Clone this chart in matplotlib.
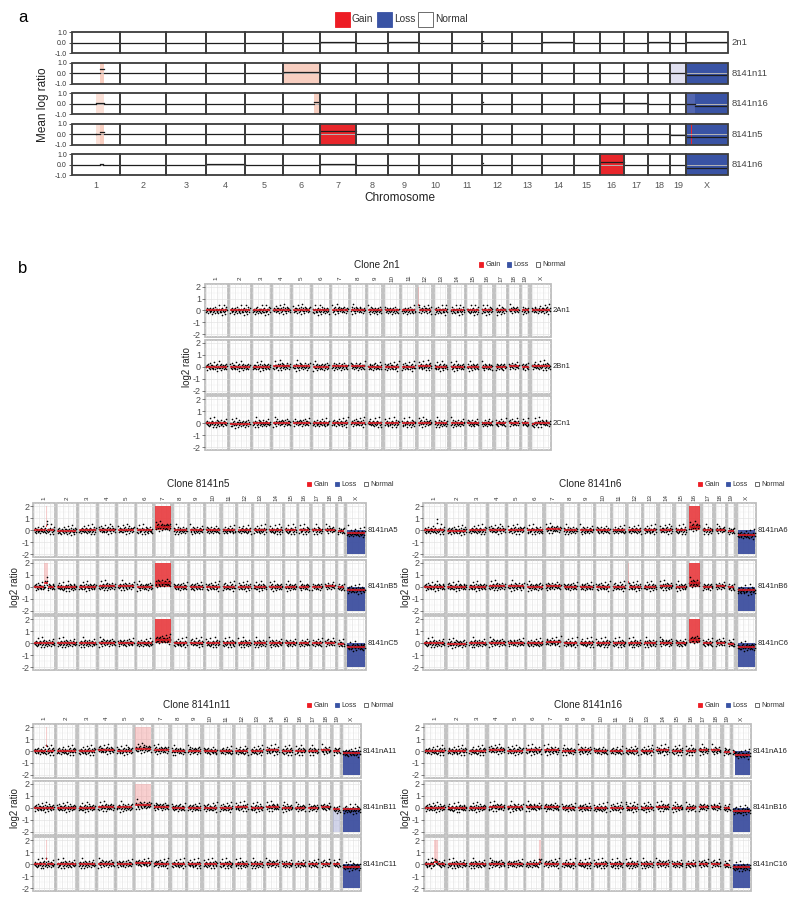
import numpy as np
import matplotlib
matplotlib.use("Agg")
import matplotlib.pyplot as plt
import matplotlib.transforms as mtrans
from matplotlib.patches import Rectangle

plt.rcParams["font.family"] = ["Liberation Sans", "DejaVu Sans"]

# ---------------- data ----------------
CHROMS = [str(i) for i in range(1, 20)] + ["X"]
CHR_MB = [195.5, 182.1, 160.0, 156.5, 151.8, 149.7, 145.4, 129.4, 124.6, 130.7,
          122.1, 120.1, 120.4, 124.9, 104.0, 98.2, 95.3, 90.7, 61.4, 171.0]

# panel a: clone-level mean log ratio per chromosome
A_CLONES = ["2n1", "8141n11", "8141n16", "8141n5", "8141n6"]
A_MEAN = [
    [0, -0.03, 0, 0.02, 0.02, 0, 0.08, 0, 0.05, 0, 0, 0, 0, 0.05, 0, 0, 0, 0.05, 0, 0.05],
    [0, 0, 0, 0.03, 0, 0.15, 0.05, 0, 0, 0, 0, 0, 0.05, 0.05, 0, 0, 0, 0, 0, -0.2],
    [0, -0.03, 0, 0.03, 0, 0, 0, 0, 0, 0, 0, 0, 0, 0, 0, 0.05, 0.05, 0, 0, -0.2],
    [0, 0, 0, 0.05, 0, 0, 0.3, 0, 0, 0.03, 0.05, 0, 0, 0, 0, 0, 0, 0, -0.1, -0.2],
    [0, 0, 0, 0.05, 0.02, 0, 0.05, 0.02, 0, 0, 0, 0, 0, 0, 0, 0.3, 0, 0, 0, -0.3],
]
# (chrom index, start Mb, end Mb, kind)
A_CALLS = [
    [(11, 0, 4, "gain_lt")],
    [(0, 113, 129, "gain_lt"), (5, 0, 149.7, "gain_lt"), (18, 0, 61.4, "loss_lt"), (19, 0, 171.0, "loss")],
    [(0, 97, 129, "gain_lt2"), (5, 125, 148, "gain_lt"), (11, 0, 4, "gain_lt"),
     (19, 0, 171.0, "loss"), (19, 0, 37, "loss_mid")],
    [(0, 97, 113, "gain_lt2"), (0, 113, 129, "gain_lt"), (6, 0, 145.4, "gain"),
     (19, 0, 171.0, "loss"), (19, 22, 26, "gain")],
    [(11, 0, 4, "gain_lt"), (15, 0, 98.2, "gain"), (19, 0, 171.0, "loss")],
]
# focal segment means (chrom index, start Mb, end Mb, mean)
A_FOCAL = [
    [(11, 0, 4, 0.2)],
    [(0, 113, 129, 0.4)],
    [(0, 97, 129, 0.05), (5, 125, 148, 0.15), (11, 0, 4, 0.2), (19, 0, 37, 0.0)],
    [(0, 97, 113, 0.05), (0, 113, 129, 0.2)],
    [(0, 113, 125, 0.1), (11, 0, 4, 0.2)],
]

# panel b: per-sample log2 ratio segments
NOISE = [0.05, -0.12, 0.18, -0.04, 0.09, -0.2, 0.02, 0.14, -0.08, 0.25, -0.15, 0.06,
         -0.02, 0.11, -0.26, 0.03, 0.2, -0.1, 0.07, -0.05, 0.32, -0.18, 0.0, 0.12,
         -0.07, 0.16, -0.13, 0.04, -0.22, 0.09, 0.42, -0.03, -0.16, 0.13, 0.01, -0.09,
         0.21, -0.35, 0.08, -0.01, 0.5, -0.11, 0.15, -0.06, -0.3, 0.1, 0.27]

S_2N1 = ["2An1", "2Bn1", "2Cn1"]
M_2N1 = [
    [0, 0, 0, 0.05, 0.05, 0, 0.05, 0.05, 0, 0, 0, 0.05, 0, 0, 0, 0, 0, 0.05, 0, 0.05],
    [0, 0, 0, 0.05, 0.03, 0, 0.03, 0.03, 0, 0, 0, 0.05, 0, 0, 0, 0, 0, 0.05, 0, 0.05],
    [0, -0.03, 0, 0.05, 0.05, 0, 0.03, 0.05, 0, 0, 0, 0.05, 0, 0, 0, 0, 0, 0.05, 0, 0.02],
]
C_2N1 = [[(11, 0, 3, 0.4, "gain_lt")], [], []]
F_2N1 = [[(11, 0, 3, 0.5)], [], [(19, 0, 25, -0.1)]]

S_N5 = ["8141nA5", "8141nB5", "8141nC5"]
M_N5 = [
    [0, -0.05, 0, 0.05, 0.05, 0, 0.3, 0, 0, 0, 0, 0, 0, 0, 0, 0, 0, 0.05, -0.05, -0.25],
    [0, -0.03, 0, 0.05, 0.05, 0, 0.3, 0, 0, 0, 0, 0, 0, 0, 0, 0, 0, 0.05, -0.05, -0.25],
    [0, 0, 0, 0.05, 0.03, 0, 0.3, 0, 0.03, 0, 0, 0, 0, 0, 0, 0, 0, 0.05, -0.05, -0.3],
]
C_N5 = [
    [(0, 118, 125, 0.4, "gain_lt"), (6, 0, 145.4, 0, "gain"), (19, 0, 171.0, 0, "loss"),
     (19, 5, 8, 0.3, "gain")],
    [(0, 100, 130, 0.3, "gain_lt"), (6, 0, 145.4, 0, "gain"), (19, 0, 171.0, 0, "loss")],
    [(6, 0, 145.4, 0, "gain"), (19, 0, 171.0, 0, "loss")],
]
F_N5 = [[(0, 118, 125, 0.4), (19, 5, 8, 0.3)], [(0, 100, 130, 0.3)], []]

S_N6 = ["8141nA6", "8141nB6", "8141nC6"]
M_N6 = [
    [0, -0.03, 0, 0.05, 0.03, 0, 0.1, 0, 0, 0, 0, 0, 0, 0.05, 0, 0.3, 0, 0.05, -0.05, -0.4],
    [0, 0, 0, 0.05, 0.03, 0, 0.05, 0, 0, 0, 0, 0, 0, 0.05, 0, 0.3, 0, 0.05, -0.05, -0.3],
    [0, -0.03, 0, 0.05, 0.03, 0, 0.1, 0, 0, 0, 0, 0, 0, 0.05, 0, 0.3, 0, 0.05, -0.05, -0.3],
]
C_N6 = [
    [(0, 120, 128, 0.5, "gain_lt"), (15, 0, 98.2, 0, "gain"), (19, 0, 171.0, 0, "loss")],
    [(11, 0, 3, 0.3, "gain_lt"), (15, 0, 98.2, 0, "gain"), (19, 0, 171.0, 0, "loss")],
    [(15, 0, 98.2, 0, "gain"), (19, 0, 171.0, 0, "loss")],
]
F_N6 = [[(0, 120, 128, 0.5)], [(11, 0, 3, 0.4)], []]

S_N11 = ["8141nA11", "8141nB11", "8141nC11"]
M_N11 = [
    [0, 0, 0, 0.1, 0.03, 0.2, 0.1, 0, 0.03, 0, 0, 0, 0, 0.05, 0, 0, 0, 0.05, 0, -0.15],
    [0, 0, 0, 0.05, 0.03, 0.2, 0.1, 0, 0, 0, 0, 0.05, 0, 0.05, 0, 0, 0, 0.05, -0.15, -0.15],
    [0, 0, 0, 0.05, 0.03, 0.1, 0.05, 0, 0, 0, 0, 0, 0, 0.05, 0, 0, 0, 0.05, 0, -0.2],
]
C_N11 = [
    [(0, 118, 124, 0.4, "gain_lt"), (5, 0, 149.7, 0.2, "gain_lt"), (19, 0, 171.0, 0, "loss")],
    [(5, 0, 149.7, 0.2, "gain_lt"), (18, 0, 61.4, -0.3, "loss_lt"), (19, 0, 171.0, 0, "loss")],
    [(0, 118, 124, 0.4, "gain_lt"), (19, 0, 171.0, 0, "loss")],
]
F_N11 = [[(0, 118, 124, 0.4)], [], [(0, 118, 124, 0.4)]]

S_N16 = ["8141nA16", "8141nB16", "8141nC16"]
M_N16 = [
    [0, 0, 0, 0.1, 0.03, 0.05, 0.05, 0, 0.05, 0, 0, 0, 0, 0.05, 0, 0, 0.05, 0.05, -0.05, -0.3],
    [0, -0.03, 0, 0.05, 0.03, 0.05, 0.05, 0, 0, -0.05, 0, 0, 0, 0.05, 0, 0, 0.05, 0.05, -0.05, -0.25],
    [0, 0, 0, 0.05, 0.03, 0, 0.05, 0, 0, 0, 0, 0, 0, 0.05, 0, 0, 0.05, 0.05, -0.05, -0.25],
]
C_N16 = [
    [(19, 25, 171.0, 0, "loss")],
    [(11, 0, 3, 0.5, "gain_lt"), (19, 0, 171.0, 0, "loss")],
    [(0, 90, 128, 0.2, "gain_lt"), (5, 128, 149.7, 0.2, "gain_lt"), (19, 0, 171.0, 0, "loss")],
]
F_N16 = [[(19, 0, 25, -0.1)], [(11, 0, 3, 0.5)], [(0, 90, 128, 0.2), (5, 128, 149.7, 0.2)]]

# ---------------- style ----------------
RED = "#ed1c24"
BLUE = "#3953a4"
A_COLORS = {"gain": "#e8262b", "gain_lt": "#f8cfc1", "gain_lt2": "#fbe1d8",
            "loss": "#3953a4", "loss_mid": "#5367b0", "loss_lt": "#e0e0f0"}
B_COLORS = {"gain": ("#e8383c", 0.9), "gain_lt": ("#f08a8a", 0.4),
            "loss": ("#3d4f9f", 0.95), "loss_lt": ("#8f96cc", 0.4)}

W, H = 800, 905
fig = plt.figure(figsize=(W / 100, H / 100), dpi=100)
ov = fig.add_axes([0, 0, 1, 1])
ov.set_xlim(0, W); ov.set_ylim(H, 0); ov.axis("off")


def px_ax(x0, y0, x1, y1):
    return fig.add_axes([x0 / W, 1 - y1 / H, (x1 - x0) / W, (y1 - y0) / H])


def pieces(c, mean, focal):
    # split a chromosome into (start, end, mean) pieces around focal segments
    segs = sorted([(s, e, m) for (cc, s, e, m) in focal if cc == c])
    out, pos = [], 0.0
    for s, e, m in segs:
        if s > pos:
            out.append((pos, s, mean))
        out.append((s, e, m))
        pos = e
    if pos < CHR_MB[c]:
        out.append((pos, CHR_MB[c], mean))
    return out


def legend(x, y, sq, fs, dx_text, steps):
    for (lab, col), xx in zip([("Gain", RED), ("Loss", BLUE), ("Normal", "white")], steps):
        ov.add_patch(Rectangle((x + xx, y - sq / 2), sq, sq, fc=col,
                               ec="#555555" if col == "white" else col, lw=0.6))
        ov.text(x + xx + sq + dx_text, y, lab, fontsize=fs, va="center", ha="left", color="#333333")


# ---------------- panel a ----------------
ov.text(18, 17, "a", fontsize=12, va="center", ha="left")
legend(335, 19.5, 14.5, 7.3, 2.5, [0, 42, 83])

starts = np.concatenate([[0], np.cumsum(CHR_MB)[:-1]])
total_a = float(np.sum(CHR_MB))
A_TOPS = [32.3, 62.6, 93.3, 123.8, 154.3]
for r, clone in enumerate(A_CLONES):
    ax = px_ax(71.7, A_TOPS[r], 728.3, A_TOPS[r] + 21.2)
    ax.set_xlim(0, total_a); ax.set_ylim(-1, 1)
    for (c, s, e, kind) in A_CALLS[r]:
        ax.add_patch(Rectangle((starts[c] + s, -1), e - s, 2, fc=A_COLORS[kind], ec="none", zorder=1))
    for c in range(20):
        ax.plot([starts[c], starts[c] + CHR_MB[c]], [0, 0], color="#b5b5b5", lw=0.7, zorder=2)
        for s, e, m in pieces(c, A_MEAN[r][c], A_FOCAL[r]):
            ax.plot([starts[c] + s, starts[c] + e], [m, m], color="#1e1e1e", lw=0.9, zorder=3)
        ax.add_patch(Rectangle((starts[c], -1), CHR_MB[c], 2, fc="none", ec="#3c3c3c",
                               lw=1.3, zorder=4, clip_on=False))
    for sp in ax.spines.values():
        sp.set_visible(False)
    ax.set_yticks([-1, 0, 1])
    ax.set_yticklabels(["-1.0", "0.0", "1.0"], fontsize=5, color="#333333")
    ax.tick_params(axis="y", length=2.5, width=0.6, pad=1, colors="#333333")
    if r == len(A_CLONES) - 1:
        ax.set_xticks(starts + np.array(CHR_MB) / 2)
        ax.set_xticklabels(CHROMS, fontsize=6.5, color="#555555")
        ax.tick_params(axis="x", length=0, pad=4)
    else:
        ax.set_xticks([])
    ax.text(1.005, 0.5, clone, transform=ax.transAxes, fontsize=6.8, va="center",
            ha="left", color="#444444")

ov.text(400, 197.5, "Chromosome", fontsize=8.5, ha="center", va="center", color="#222222")
ov.text(43, 105, "Mean log ratio", fontsize=8.5, ha="center", va="center", rotation=90, color="#222222")

# ---------------- panel b ----------------
ov.text(18, 268, "b", fontsize=12, va="center", ha="left")

PAD, GAP = 16.0, 14.0
fw = np.array(CHR_MB) + PAD
flefts = np.concatenate([[0], np.cumsum(fw + GAP)[:-1]])
total_b = float(flefts[-1] + fw[-1])


def draw_clone(title, samples, means, calls, focal, x0, x1, centers, title_xy, leg_x, ylab_x):
    half = 26.8
    for r, name in enumerate(samples):
        cy = centers[r]
        ax = px_ax(x0, cy - half, x1, cy + half)
        ax.set_xlim(0, total_b); ax.set_ylim(-2.25, 2.25)
        for c in range(20):
            left, w, L = flefts[c], fw[c], CHR_MB[c]
            off = left + PAD / 2
            ax.add_patch(Rectangle((left, -2.25), w, 4.5, fc="white", ec="#bdbdbd", lw=1.3,
                                   zorder=0.5, clip_on=False))
            ax.hlines([-2, -1, 0, 1, 2], left, left + w, color="#e2e2e2", lw=0.45, zorder=0.6)
            ax.hlines([-1.5, -0.5, 0.5, 1.5], left, left + w, color="#efefef", lw=0.3, zorder=0.6)
            ax.vlines(off + np.arange(0, L, 50), -2.25, 2.25, color="#e2e2e2", lw=0.45, zorder=0.6)
            ax.vlines(off + np.arange(25, L, 50), -2.25, 2.25, color="#efefef", lw=0.3, zorder=0.6)
            if r == 0:
                tr = mtrans.blended_transform_factory(ax.transData, ax.transAxes)
                ax.text(left + w / 2, 1.105, CHROMS[c], transform=tr, rotation=90, fontsize=4.5,
                        ha="center", va="center", color="#333333")
        for (c, s, e, base, kind) in calls[r]:
            col, al = B_COLORS[kind]
            top = 2 if kind.startswith("gain") else -2
            ax.add_patch(Rectangle((flefts[c] + PAD / 2 + s, base), e - s, top - base,
                                   fc=col, alpha=al, ec="none", zorder=1))
        for c in range(20):
            off = flefts[c] + PAD / 2
            L = CHR_MB[c]
            n = int(L / 4)
            xs = np.linspace(1, L - 1, n)
            segs = pieces(c, means[r][c], focal[r])
            ys = []
            for k, xv in enumerate(xs):
                m = [mm for (s, e, mm) in segs if s <= xv <= e][0]
                ys.append(m + NOISE[(k + c * 5 + r * 11) % len(NOISE)])
            ax.scatter(off + xs, ys, s=1.4, color="black", lw=0, zorder=2.5)
            for s, e, m in segs:
                ax.plot([off + s, off + e], [m, m], color="#ee1c25", lw=1.1, zorder=3,
                        solid_capstyle="butt")
        for sp in ax.spines.values():
            sp.set_visible(False)
        ax.set_xticks([])
        ax.set_yticks([-2, -1, 0, 1, 2])
        ax.set_yticklabels(["-2", "-1", "0", "1", "2"], fontsize=6.5, color="#4d4d4d")
        ax.tick_params(axis="y", length=2, width=0.5, pad=1, colors="#4d4d4d")
        ax.text(1.006, 0.5, name, transform=ax.transAxes, fontsize=5.5, va="center",
                ha="left", color="#222222")
    ov.text(title_xy[0], title_xy[1], title, fontsize=7.2, ha="center", va="center", color="#222222")
    legend(leg_x, title_xy[1], 4.4, 5.2, 2.2, [0, 28, 57])
    ov.text(ylab_x, (centers[0] + centers[-1]) / 2, "log2 ratio", fontsize=7, rotation=90,
            ha="center", va="center", color="#222222")


draw_clone("Clone 2n1", S_2N1, M_2N1, C_2N1, F_2N1, 205, 551, [310.5, 366.8, 423.3],
           (376.7, 264.5), 479, 187)
draw_clone("Clone 8141n5", S_N5, M_N5, C_N5, F_N5, 33.3, 365.7, [530.3, 586.8, 643.2],
           (198, 484), 306.7, 15)
draw_clone("Clone 8141n6", S_N6, M_N6, C_N6, F_N6, 423.3, 756, [530.3, 586.8, 643.2],
           (590, 484), 698, 406)
draw_clone("Clone 8141n11", S_N11, M_N11, C_N11, F_N11, 33.3, 361, [751, 807.7, 864.2],
           (197, 705), 306.7, 15)
draw_clone("Clone 8141n16", S_N16, M_N16, C_N16, F_N16, 424, 751, [751, 807.7, 864.2],
           (588, 705), 697.7, 406)

fig.savefig("out.png", dpi=100, facecolor="white")
plt.close(fig)
